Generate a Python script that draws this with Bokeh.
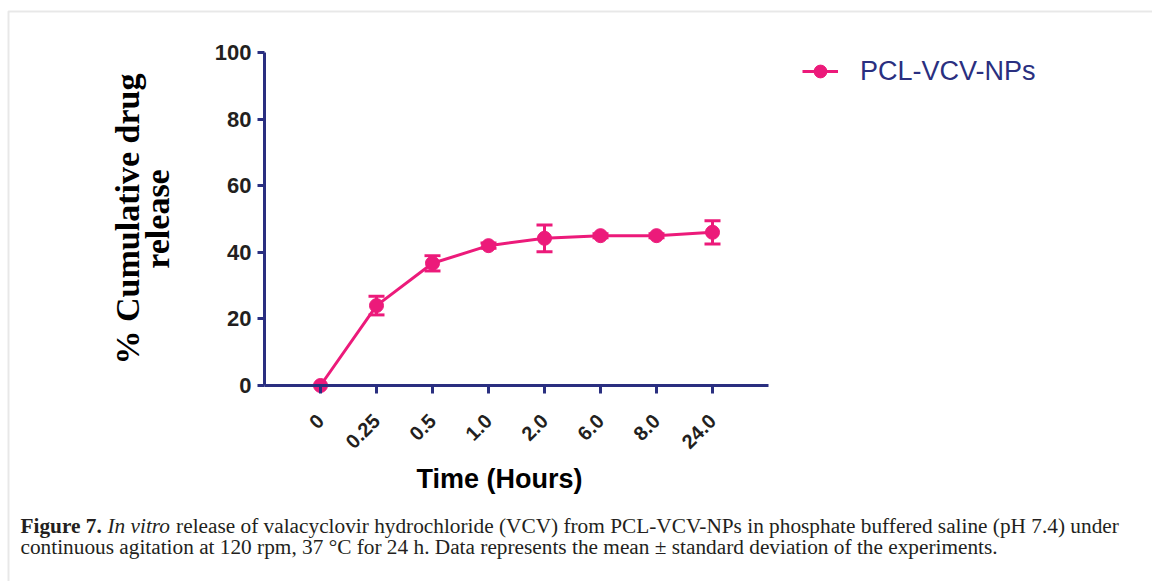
import math
from bokeh.plotting import figure
from bokeh.models import (Range1d, FixedTicker, Whisker, ColumnDataSource, LinearAxis,
                          Legend, LegendItem, TeeHead, Label, BoxAnnotation)
from bokeh.embed import file_html
from bokeh.resources import INLINE

# ---- data ----
times = ["0", "0.25", "0.5", "1.0", "2.0", "6.0", "8.0", "24.0"]
release = [0, 24.0, 36.7, 42.0, 44.2, 45.0, 45.0, 46.0]
sd = [0, 2.8, 2.3, 0.8, 4.0, 0.6, 0.6, 3.5]
y_ticks = [0, 20, 40, 60, 80, 100]
series_name = "PCL-VCV-NPs"
x_title = "Time (Hours)"
y_title = "% Cumulative drug\nrelease"
cap_bold = "Figure 7."
cap_italic = "In vitro"
cap_rest1 = "release of valacyclovir hydrochloride (VCV) from PCL-VCV-NPs in phosphate buffered saline (pH 7.4) under"
cap_line2 = ("continuous agitation at 120 rpm, 37 \u00b0C for 24 h. Data represents the mean \u00b1 "
             "standard deviation of the experiments.")

PINK = "#EC1A7A"
NAVY = "#2A2F80"
DARK = "#231F20"

W, H = 1152, 581
idx = list(range(len(times)))          # category positions on the x axis

src = ColumnDataSource(dict(
    x=idx, y=release,
    upper=[r + s for r, s in zip(release, sd)],
    lower=[r - s for r, s in zip(release, sd)],
))

# screen geometry of the chart: category i at 320 + 56 i px, y 0 -> 385 px, 100 -> 52 px
px_x = 56.0
px_y = (385 - 52) / 100.0
x_range = Range1d(-320 / px_x, (W - 320) / px_x)
y_range = Range1d(-(H - 385) / px_y, 100 + 52 / px_y)

p = figure(width=W, height=H, x_range=x_range, y_range=y_range,
           output_backend="svg", toolbar_location=None, min_border=0)
p.outline_line_color = None
p.xgrid.grid_line_color = None
p.ygrid.grid_line_color = None

wh = Whisker(source=src, base="x", upper="upper", lower="lower",
             line_color=PINK, line_width=3,
             upper_head=TeeHead(size=16, line_color=PINK, line_width=3),
             lower_head=TeeHead(size=16, line_color=PINK, line_width=3))
p.add_layout(wh)

line_r = p.line(x="x", y="y", source=src, line_color=PINK, line_width=3)
sc_r = p.scatter(x="x", y="y", source=src, size=14, fill_color=PINK, line_color=PINK)

# x axis drawn at y = 0 (line, ticks, tick labels)
xa = p.xaxis[0]
xa.fixed_location = 0
xa.bounds = (-1, 8)
xa.ticker = FixedTicker(ticks=idx)
xa.major_label_overrides = {i: t for i, t in zip(idx, times)}
xa.axis_line_color = NAVY
xa.axis_line_width = 3
xa.major_tick_line_color = NAVY
xa.major_tick_line_width = 3
xa.major_tick_out = 8
xa.major_tick_in = 0
xa.minor_tick_out = 0
xa.minor_tick_in = 0
xa.major_label_orientation = math.pi / 4
xa.major_label_text_font = "Liberation Sans"
xa.major_label_text_font_style = "bold"
xa.major_label_text_font_size = "20px"
xa.major_label_text_color = DARK
xa.major_label_standoff = 24

# x-axis title (centred as in the reference, slightly left of the axis centre)
tc = (499 - 320) / px_x
xt = LinearAxis(fixed_location=0, bounds=(tc - 4.5, tc + 4.5), ticker=FixedTicker(ticks=[]),
                axis_line_color=None, major_tick_out=0, major_tick_in=0,
                minor_tick_out=0, minor_tick_in=0,
                axis_label=x_title, axis_label_text_font="Liberation Sans",
                axis_label_text_font_style="bold", axis_label_text_font_size="27px",
                axis_label_text_color="black", axis_label_standoff=78)
p.add_layout(xt, "below")

# y axis drawn at x = -1
ya = p.yaxis[0]
ya.fixed_location = -1
ya.bounds = (0, 100)
ya.ticker = FixedTicker(ticks=y_ticks)
ya.axis_line_color = NAVY
ya.axis_line_width = 3
ya.major_tick_line_color = NAVY
ya.major_tick_line_width = 3
ya.major_tick_out = 7
ya.major_tick_in = 0
ya.minor_tick_out = 0
ya.minor_tick_in = 0
ya.major_label_text_font = "Liberation Sans"
ya.major_label_text_font_style = "bold"
ya.major_label_text_font_size = "22px"
ya.major_label_text_color = DARK
ya.major_label_standoff = 6
ya.axis_label = y_title
ya.axis_label_text_font = "Liberation Serif"
ya.axis_label_text_font_style = "bold"
ya.axis_label_text_font_size = "34px"
ya.axis_label_text_line_height = 0.8
ya.axis_label_text_color = "black"
ya.axis_label_standoff = 36

legend = Legend(items=[LegendItem(label=series_name, renderers=[line_r, sc_r])],
                location=(802, 494), orientation="vertical",
                glyph_width=36, glyph_height=32, label_standoff=22,
                label_text_font="Liberation Sans", label_text_font_size="27px",
                label_text_color=NAVY, padding=0, margin=0, spacing=0,
                border_line_color=None, background_fill_alpha=0)
p.add_layout(legend)

# panel border (top and left grey rules)
p.add_layout(BoxAnnotation(left=8, right=W + 20, top=11, bottom=H + 20,
                           left_units="canvas", right_units="canvas",
                           top_units="canvas", bottom_units="canvas",
                           fill_alpha=0, line_color="#B4B4B4", line_width=2))

# caption (screen units: x from left, y up from bottom)
cs = 21.3
x0 = 20
def cap(text, sx, sy, style="normal"):
    p.add_layout(Label(x=sx, y=H - sy, x_units="screen", y_units="screen",
                       text=text, text_font="Liberation Serif", text_font_style=style,
                       text_font_size=f"{cs}px", text_color=DARK,
                       text_baseline="alphabetic", text_align="left"))

cap(cap_bold, x0, 525, "bold")
cap(cap_italic, x0 + 4.083 * cs, 525, "italic")
cap(cap_rest1, x0 + 7.305 * cs, 525)
cap(cap_line2, x0, 546)

open("out.html", "w").write(file_html(p, INLINE))
